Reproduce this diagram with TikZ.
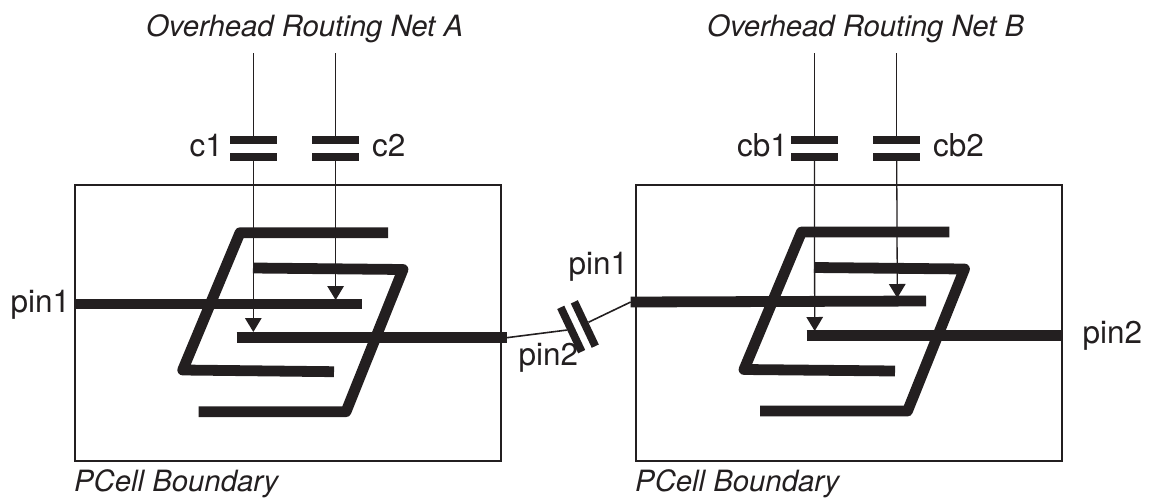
\documentclass[tikz,border=0pt]{standalone}
\usepackage{fontspec}
\setmainfont{TeX Gyre Heros}
\usetikzlibrary{arrows.meta}
\definecolor{ink}{HTML}{231F20}
\tikzset{
  cellbox/.style={draw=ink,line width=2pt,inner sep=0pt,outer sep=0pt,minimum width=426pt,minimum height=275.2pt,anchor=north west},
  metal/.style={draw=ink,line width=10.8pt,line join=round,line cap=butt},
  wire/.style={draw=ink,line width=1.3pt},
  link/.style={draw=ink,line width=1.6pt},
  tipwire/.style={draw=ink,line width=1.3pt,-{Triangle[length=14pt,width=16.5pt,fill=ink]}},
  plate/.style={fill=ink,inner sep=0pt,minimum width=46.7pt,minimum height=8.3pt},
  slant/.style={fill=ink,inner sep=0pt,minimum width=49pt,minimum height=7.8pt,rotate=-64.7},
  lab/.style={text=ink,inner sep=0pt,anchor=base west,font=\fontsize{31.5}{34}\selectfont},
  ital/.style={text=ink,inner sep=0pt,anchor=base west,font=\fontsize{29.3}{32}\selectfont\itshape}
}
\begin{document}
\begin{tikzpicture}[x=1pt,y=-1pt]
\useasboundingbox (0,0) rectangle (1155,498);
% cell boundaries
\node[cellbox] (boxA) at (75,185.3) {};
\node[cellbox] (boxB) at (635.6,185.3) {};
% coupling plates
\node[plate] (c1t) at (253.3,140.2) {};
\node[plate] (c1b) at (253.3,156.8) {};
\node[plate] (c2t) at (335.6,140.2) {};
\node[plate] (c2b) at (335.6,156.8) {};
\node[plate] (cb1t) at (814.4,140.2) {};
\node[plate] (cb1b) at (814.4,156.8) {};
\node[plate] (cb2t) at (896.7,140.2) {};
\node[plate] (cb2b) at (896.7,156.8) {};
% free ends
\coordinate (wa1) at (253.3,53);
\coordinate (wa2) at (335.6,53);
\coordinate (wb1) at (814.4,53);
\coordinate (wb2) at (896.7,53);
\coordinate (ta1) at (253.3,332);
\coordinate (ta2) at (335.6,300);
\coordinate (tb1) at (814.7,331);
\coordinate (tb2) at (897.3,298);
% overhead wires
\draw[wire] (wa1) -- (c1t);
\draw[wire] (wa2) -- (c2t);
\draw[wire] (wb1) -- (cb1t);
\draw[wire] (wb2) -- (cb2t);
\draw[tipwire] (c1b) -- (ta1);
\draw[tipwire] (c2b) -- (ta2);
\draw[tipwire] (cb1b) -- (tb1);
\draw[tipwire] (cb2b) -- (tb2);
% cell A metal
\draw[metal] (388,232.7) -- (240,232.7) -- (182.7,370) -- (334,371.7);
\draw[metal] (253,268) -- (403,269.5) -- (346,411.7) -- (198.7,411.7);
\draw[metal] (76,304) -- (362,304);
\coordinate (a2end) at (506.7,337.7);
\draw[metal] (236.7,337.7) -- (a2end);
% cell B metal
\draw[metal] (949.3,232) -- (801.5,232) -- (744,369.5) -- (895,371);
\draw[metal] (814,267.5) -- (964.5,269) -- (907.5,411) -- (760,411);
\coordinate (b1start) at (630.7,302);
\draw[metal] (b1start) -- (926,301);
\draw[metal] (806.7,335.7) -- (1061,335.7);
% series capacitor between the cells
\node[slant] (sl) at (571.2,329.5) {};
\node[slant] (sr) at (584.8,324) {};
\draw[link] (a2end) -- (sl);
\draw[link] (b1start) -- (sr);
% labels
\node[ital] (netA) at (146,36) {Overhead Routing Net A};
\node[ital] (netB) at (707,36) {Overhead Routing Net B};
\node[lab] (lc1) at (189.5,156) {c1};
\node[lab] (lc2) at (372,156) {c2};
\node[lab] (lcb1) at (737,156) {cb1};
\node[lab] (lcb2) at (933,156) {cb2};
\node[lab] (lp1a) at (10.5,312) {pin1};
\node[lab] (lp1b) at (568.5,274) {pin1};
\node[lab] (lp2a) at (518.5,365) {pin2};
\node[lab] (lp2b) at (1082.5,343) {pin2};
\node[ital] (pcA) at (74,491) {PCell Boundary};
\node[ital] (pcB) at (635,491) {PCell Boundary};
\end{tikzpicture}
\end{document}
